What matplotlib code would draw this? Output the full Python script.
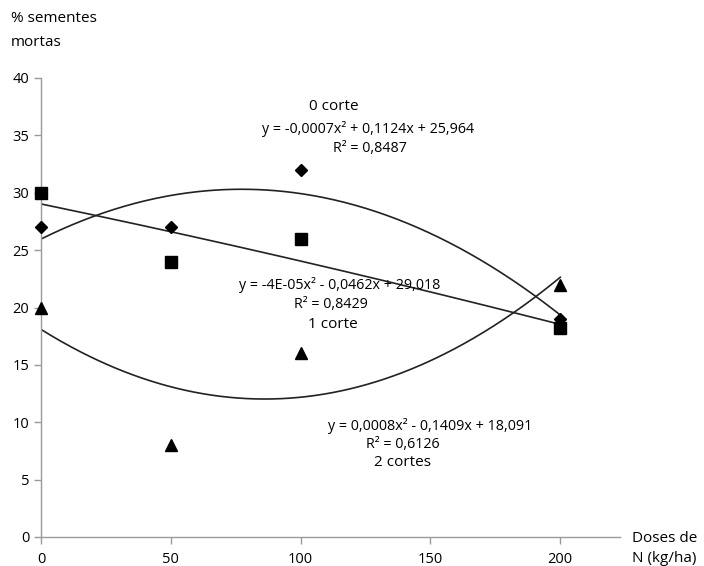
import numpy as np
import matplotlib
matplotlib.use("Agg")
import matplotlib.pyplot as plt

plt.rcParams['font.family'] = ['Open Sans', 'DejaVu Sans']

doses = [0, 50, 100, 200]
corte0 = [27, 27, 32, 19]
corte1 = [30, 24, 26, 18.2]
corte2 = [20, 8, 16, 22]

xticks = [0, 50, 100, 150, 200]
yticks = [0, 5, 10, 15, 20, 25, 30, 35, 40]

fig = plt.figure(figsize=(7.04, 5.66), dpi=100)
W, H = 704, 566
ax = fig.add_axes([41 / W, 1 - 537 / H, (620 - 41) / W, (537 - 78) / H])
ax.set_xlim(0, 223)
ax.set_ylim(0, 40)

xs = np.linspace(0, 200, 300)
for ys, mk, ms in [(corte0, 'D', 6), (corte1, 's', 8), (corte2, '^', 8)]:
    c = np.polyfit(doses, ys, 2)
    ax.plot(xs, np.polyval(c, xs), color='#222222', lw=1.2, zorder=2)
    ax.plot(doses, ys, linestyle='none', marker=mk, markersize=ms,
            color='black', zorder=3, clip_on=False)

ax.set_xticks(xticks)
ax.set_yticks(yticks)
for s in ['top', 'right']:
    ax.spines[s].set_visible(False)
for s in ['left', 'bottom']:
    ax.spines[s].set_color('#9a9a9a')
    ax.spines[s].set_linewidth(1.0)
ax.tick_params(axis='both', colors='#9a9a9a', labelcolor='black',
               labelsize=10.5, length=5, width=1)
ax.tick_params(axis='x', pad=6)

fs = 10.3
big = 11
T = fig.transFigure
ax.text(334 / W, 1 - 107 / H, '0 corte', transform=T, ha='center', va='center', fontsize=big)
ax.text(368 / W, 1 - 129 / H, 'y = -0,0007x² + 0,1124x + 25,964', transform=T, ha='center', va='center', fontsize=fs)
ax.text(370 / W, 1 - 148 / H, 'R² = 0,8487', transform=T, ha='center', va='center', fontsize=fs)

ax.text(340 / W, 1 - 285 / H, 'y = -4E-05x² - 0,0462x + 29,018', transform=T, ha='center', va='center', fontsize=fs)
ax.text(331 / W, 1 - 304 / H, 'R² = 0,8429', transform=T, ha='center', va='center', fontsize=fs)
ax.text(333 / W, 1 - 325 / H, '1 corte', transform=T, ha='center', va='center', fontsize=big)

ax.text(430 / W, 1 - 426 / H, 'y = 0,0008x² - 0,1409x + 18,091', transform=T, ha='center', va='center', fontsize=fs)
ax.text(403 / W, 1 - 444 / H, 'R² = 0,6126', transform=T, ha='center', va='center', fontsize=fs)
ax.text(403 / W, 1 - 463 / H, '2 cortes', transform=T, ha='center', va='center', fontsize=big)

fig.text(11 / W, 1 - 19 / H, '% sementes', ha='left', va='center', fontsize=11)
fig.text(11 / W, 1 - 43 / H, 'mortas', ha='left', va='center', fontsize=11)
fig.text(632 / W, 1 - 538 / H, 'Doses de', ha='left', va='center', fontsize=11)
fig.text(632 / W, 1 - 558 / H, 'N (kg/ha)', ha='left', va='center', fontsize=11)

fig.savefig('out.png', dpi=100)
